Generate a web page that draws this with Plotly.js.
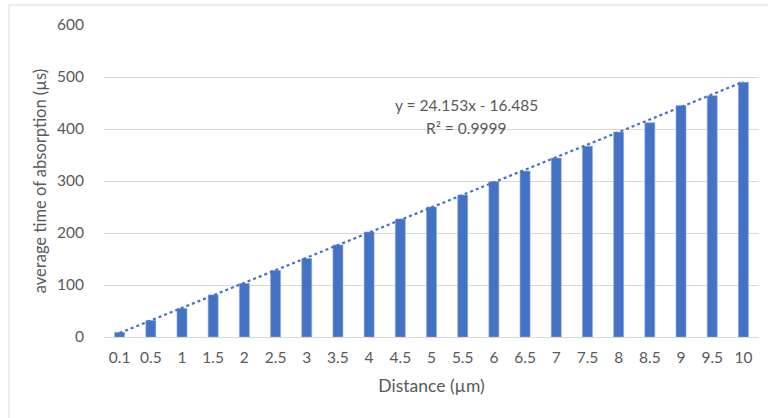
<!DOCTYPE html>
<html>
<head>
<meta charset="utf-8">
<script src="https://cdn.plot.ly/plotly-3.0.1.min.js"></script>
<style>
  html, body { margin: 0; padding: 0; background: #ffffff; }
  #chart { width: 768px; height: 418px; }
</style>
</head>
<body>
<div id="chart"></div>
<script>
// Distance categories (µm)
const distances = ['0.1', '0.5', '1', '1.5', '2', '2.5', '3', '3.5', '4', '4.5', '5',
                   '5.5', '6', '6.5', '7', '7.5', '8', '8.5', '9', '9.5', '10'];

// Average time of absorption (µs) per distance
const absorptionTimes = [9, 32, 55, 81, 103, 128, 151, 177, 202, 227, 250,
                         273, 299, 319, 344, 367, 394, 412, 445, 464, 490];

// Linear trendline coefficients (x = category position 1..n)
const trendSlope = 24.153;
const trendIntercept = -16.485;
const trendR2 = 0.9999;

const yTicks = [0, 100, 200, 300, 400, 500, 600];

const textColor = '#595959';
const gridColor = '#d9d9d9';
const barColor = '#4472c4';
const fontFamily = 'Lato, "Open Sans", sans-serif';
const tickSize = 15.5;

const trendY = distances.map((_, i) => trendSlope * (i + 1) + trendIntercept);

const bars = {
  type: 'bar',
  x: distances,
  y: absorptionTimes,
  marker: { color: barColor, line: { color: '#8faadc', width: 0.6 } },
  hoverinfo: 'x+y',
  showlegend: false
};

const trend = {
  type: 'scatter',
  mode: 'lines',
  x: distances,
  y: trendY,
  line: { color: barColor, width: 2.2, dash: 'dot' },
  hoverinfo: 'skip',
  showlegend: false
};

const layout = {
  width: 768,
  height: 418,
  margin: { l: 104, r: 9, t: 25, b: 81 },
  paper_bgcolor: '#ffffff',
  plot_bgcolor: '#ffffff',
  font: { family: fontFamily, size: tickSize, color: textColor },
  bargap: 0.68,
  xaxis: {
    type: 'category',
    showgrid: false,
    showline: true,
    linecolor: gridColor,
    linewidth: 1,
    ticks: '',
    ticklabelstandoff: 6,
    tickfont: { family: fontFamily, size: tickSize, color: textColor },
    title: { text: 'Distance (µm)', font: { family: fontFamily, size: 17.5, color: textColor }, standoff: 15 },
    fixedrange: true
  },
  yaxis: {
    range: [0, 600],
    tickvals: yTicks,
    ticktext: yTicks.map(String),
    showgrid: true,
    gridcolor: gridColor,
    gridwidth: 1,
    zeroline: false,
    showline: false,
    ticks: '',
    ticklabelstandoff: 19,
    tickfont: { family: fontFamily, size: tickSize, color: textColor },
    title: { text: 'average time of absorption (µs)', font: { family: fontFamily, size: 16.5, color: textColor }, standoff: 6 },
    fixedrange: true
  },
  annotations: [
    {
      xref: 'paper', yref: 'paper', x: 0.553, y: 0.744,
      xanchor: 'center', yanchor: 'middle', showarrow: false,
      text: 'y = ' + trendSlope.toFixed(3) + 'x - ' + Math.abs(trendIntercept).toFixed(3),
      font: { family: fontFamily, size: tickSize, color: textColor }
    },
    {
      xref: 'paper', yref: 'paper', x: 0.553, y: 0.670,
      xanchor: 'center', yanchor: 'middle', showarrow: false,
      text: 'R² = ' + trendR2.toFixed(4),
      font: { family: fontFamily, size: tickSize, color: textColor }
    }
  ],
  shapes: [{
    type: 'rect',
    xref: 'paper',
    yref: 'paper',
    x0: -95 / 655,
    x1: 1.05,
    y0: -0.3,
    y1: 1 + 20 / 312,
    line: { color: '#d9d9d9', width: 1 },
    fillcolor: 'rgba(0,0,0,0)',
    layer: 'below'
  }]
};

Plotly.newPlot('chart', [bars, trend], layout, { displayModeBar: false, staticPlot: true });
</script>
</body>
</html>
